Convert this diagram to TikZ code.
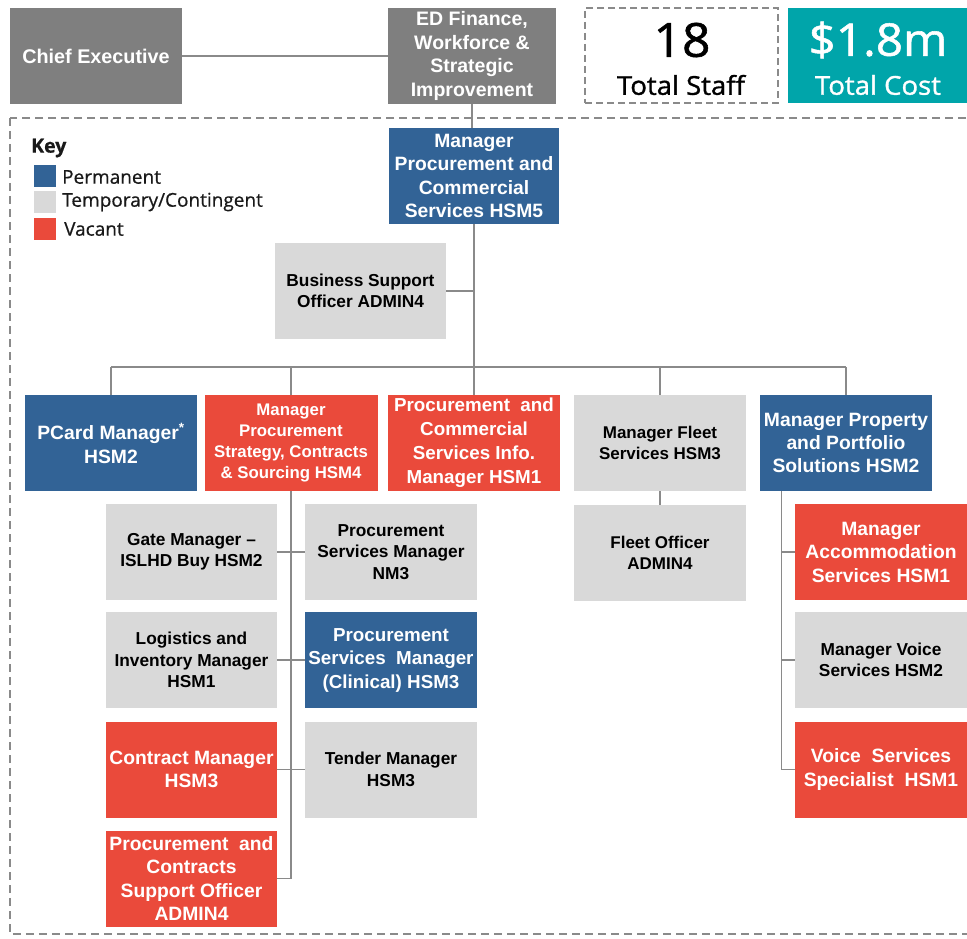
\documentclass[tikz,border=0pt]{standalone}
\usepackage{fontspec}
\setmainfont{Liberation Sans}
\newfontfamily\keyfont[FakeBold=0.6]{Open Sans}
\newfontfamily\figfont[FakeBold=1.2, FakeStretch=1.06]{Open Sans}

\definecolor{permblue}{RGB}{50,99,150}
\definecolor{vacred}{RGB}{234,74,59}
\definecolor{tempgray}{RGB}{217,217,217}
\definecolor{execgray}{RGB}{127,127,127}
\definecolor{costteal}{RGB}{0,165,170}
\definecolor{linegray}{RGB}{138,138,138}
\definecolor{keyink}{RGB}{25,25,25}

\tikzset{
  role/.style={minimum width=172pt, minimum height=96pt, inner sep=0pt,
    align=center, font=\bfseries\fontsize{19.3}{23.5}\selectfont},
  perm/.style={role, fill=permblue, text=white},
  vac/.style={role, fill=vacred, text=white},
  temp/.style={role, fill=tempgray, text=black,
    font=\bfseries\fontsize{17.3}{21.5}\selectfont},
  exec/.style={role, fill=execgray, text=white},
  link/.style={draw=linegray, line width=1.3pt},
  dashframe/.style={draw=linegray, line width=1.8pt, dash pattern=on 8pt off 5pt},
  keysq/.style={minimum size=22pt, inner sep=0pt},
  keytext/.style={anchor=west, inner sep=0pt, text=keyink,
    font=\keyfont\fontsize{19}{19}\selectfont},
}

\begin{document}
\begin{tikzpicture}[x=1pt, y=-1pt]
\useasboundingbox (0,0) rectangle (967,939);
\clip (0,0) rectangle (967,939);

% outer dashed frame of the division
\draw[dashframe] (10,118) rectangle (985,934);

% executive line
\node[exec, minimum width=172pt, font=\bfseries\fontsize{19.8}{23.5}\selectfont] (chief) at (96,56) {Chief Executive};
\node[exec, minimum width=168pt, font=\bfseries\fontsize{19.5}{23.5}\selectfont] (ed) at (472,56)
  {ED Finance,\\Workforce \&\\Strategic\\Improvement};

% headline figures
\node[dashframe, line width=1.5pt, dash pattern=on 7pt off 4pt,
  minimum width=193pt, minimum height=95pt] (staff) at (681.5,55.5) {};
\node[font=\figfont\fontsize{47}{47}\selectfont, text=black] (staffnum) at (682,40) {18};
\node[font=\figfont\fontsize{26}{26}\selectfont, text=black] (stafflbl) at (681,85) {Total Staff};
\node[fill=costteal, minimum width=180pt, minimum height=95pt, inner sep=0pt] (cost) at (878,55.5) {};
\node[font=\figfont\fontsize{45}{45}\selectfont, text=white] (costnum) at (878,40) {\$1.8m};
\node[font=\figfont\fontsize{26}{26}\selectfont, text=white] (costlbl) at (878,85) {Total Cost};

% key
\node[anchor=west, inner sep=0pt, text=keyink, font=\keyfont\bfseries\fontsize{19.5}{19.5}\selectfont] (keytitle) at (31,148) {Key};
\node[keysq, fill=permblue] (kperm) at (45,176) {};
\node[keysq, fill=tempgray] (ktemp) at (45,202) {};
\node[keysq, fill=vacred] (kvac) at (45,229) {};
\node[keytext] (kpermt) at (62,177) {Permanent};
\node[keytext] (ktempt) at (62,202) {Temporary/Contingent};
\node[keytext] (kvact) at (64,229) {Vacant};

% division head and support
\node[perm, minimum width=170pt] (mgr) at (474,176) {Manager\\Procurement and\\Commercial\\Services HSM5};
\node[temp, minimum width=171pt, font=\bfseries\fontsize{17.3}{20.5}\selectfont] (bso) at (360.5,291) {Business Support\\Officer ADMIN4};

% first tier
\node[perm] (pcard) at (111,443) {PCard Manager\textsuperscript{*}\\HSM2};
\node[vac, minimum width=173pt, font=\bfseries\fontsize{16.8}{21}\selectfont] (strat) at (291,443)
  {Manager\\Procurement\\Strategy, Contracts\\\& Sourcing HSM4};
\node[vac, font=\bfseries\fontsize{18.8}{24}\selectfont] (info) at (474,443)
  {Procurement~~and\\Commercial\\Services Info.\\Manager HSM1};
\node[temp, font=\bfseries\fontsize{17}{20.5}\selectfont] (fleet) at (660,443) {Manager Fleet\\Services HSM3};
\node[perm, font=\bfseries\fontsize{19.3}{23}\selectfont] (prop) at (846,443) {Manager Property\\and Portfolio\\Solutions HSM2};

% strategy team
\node[temp, minimum width=171pt] (gate) at (191.5,552) {Gate Manager --\\ISLHD Buy HSM2};
\node[temp] (psm) at (391,552) {Procurement\\Services Manager\\NM3};
\node[temp, minimum width=171pt] (logi) at (191.5,660) {Logistics and\\Inventory Manager\\HSM1};
\node[perm, font=\bfseries\fontsize{18.8}{23.5}\selectfont] (clin) at (391,660) {Procurement\\Services~ Manager\\(Clinical) HSM3};
\node[vac, minimum width=171pt] (contract) at (191.5,769.5) {Contract Manager\\HSM3};
\node[temp] (tender) at (391,769.5) {Tender Manager\\HSM3};
\node[vac, minimum width=171pt] (pcso) at (191.5,878.5) {Procurement~~and\\Contracts\\Support Officer\\ADMIN4};

% fleet team
\node[temp, font=\bfseries\fontsize{17}{20.5}\selectfont] (fleetoff) at (660,553) {Fleet Officer\\ADMIN4};

% property team
\node[vac] (accom) at (881,552) {Manager\\Accommodation\\Services HSM1};
\node[temp] (voice) at (881,660) {Manager Voice\\Services HSM2};
\node[vac] (vss) at (881,769.5) {Voice~ Services\\Specialist~ HSM1};

% reporting lines
\draw[link] (chief.east) -- (ed.west);
\draw[link] (ed.south) -- (ed.south |- mgr.north);
\coordinate (bus) at (474,367);
\draw[link] (mgr.south) -- (bus);
\draw[link] (bso.east) -- (bso.east -| mgr.south);
\draw[link] (pcard.north |- bus) -- (prop.north |- bus);
\foreach \n in {pcard,strat,info,fleet,prop}
  \draw[link] (\n.north) -- (\n.north |- bus);

% strategy spine
\coordinate (stratend) at (strat.south |- pcso.east);
\draw[link] (strat.south) -- (stratend);
\foreach \n in {gate,logi,contract,pcso}
  \draw[link] (\n.east) -- (\n.east -| strat.south);
\foreach \n in {psm,clin,tender}
  \draw[link] (\n.west) -- (\n.west -| strat.south);

% fleet link
\draw[link] (fleet.south) -- (fleetoff.north);

% property spine
\coordinate (pspine) at ([xshift=22pt]prop.south west);
\coordinate (pspineend) at (pspine |- vss.west);
\draw[link] (pspine) -- (pspineend);
\foreach \n in {accom,voice,vss}
  \draw[link] (\n.west) -- (\n.west -| pspine);
\end{tikzpicture}
\end{document}
